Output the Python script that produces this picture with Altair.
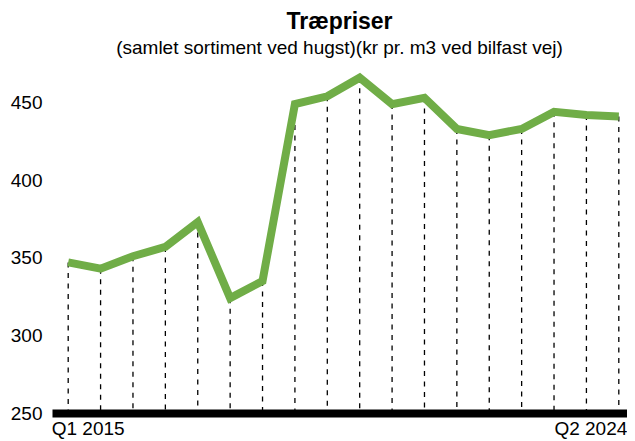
import altair as alt
import pandas as pd

periods = ["Q1 2015", "Q3 2015", "Q1 2016", "Q3 2016", "Q1 2017", "Q3 2017",
           "Q1 2018", "Q3 2018", "Q1 2019", "Q3 2019", "Q1 2020", "Q3 2020",
           "Q1 2021", "Q3 2021", "Q1 2022", "Q3 2022", "Q3 2023", "Q2 2024"]
prices = [347, 343, 351, 357, 373, 324, 335, 449, 454, 466, 449, 453,
          433, 429, 433, 444, 442, 441]
y_ticks = [250, 300, 350, 400, 450]
baseline = 250

df = pd.DataFrame({"period": periods, "price": prices})

FONT = "Liberation Sans"
GREEN = "#70AD47"

# plot area 575 px visible; the scale runs 8 px past it so it reaches the page edge
x_scale = alt.Scale(type="point", padding=0.5, range=[0, 583])
x_enc = alt.X("period:O", sort=None, title=None, scale=x_scale,
              axis=alt.Axis(values=[periods[0], periods[-1]], labelAngle=0,
                            labelAlign={"condition": {"test": "datum.index == 0", "value": "left"},
                                        "value": "right"},
                            labelOffset={"condition": {"test": "datum.index == 0", "value": -17},
                                         "value": 8},
                            ticks=False, tickSize=0, grid=False,
                            domainColor="black", domainWidth=8,
                            labelFontSize=19, labelColor="black",
                            labelFont=FONT, labelPadding=6))
y_scale = alt.Scale(domain=[250, 470], nice=False, zero=False)

rules = alt.Chart(df).mark_rule(color="black", strokeWidth=1.3,
                                strokeDash=[5, 5.5]).encode(
    x=x_enc,
    y=alt.Y("price:Q", scale=y_scale, title=None,
            axis=alt.Axis(values=y_ticks, domain=False, ticks=False, tickSize=0,
                          grid=False, labelFontSize=19, labelColor="black",
                          labelFont=FONT, labelPadding=10)),
    y2=alt.datum(baseline),
)

line = alt.Chart(df).mark_line(color=GREEN, strokeWidth=8,
                               strokeJoin="miter").encode(
    x=x_enc,
    y=alt.Y("price:Q", scale=y_scale),
)

chart = alt.layer(rules, line).properties(
    width=575, height=341.5,
    title=alt.TitleParams(
        text="Træpriser",
        subtitle="(samlet sortiment ved hugst)(kr pr. m3 ved bilfast vej)",
        font=FONT, fontSize=23, fontWeight="bold", color="black",
        subtitleFont=FONT, subtitleFontSize=19, subtitleColor="black",
        subtitlePadding=5, anchor="middle", offset=4),
    autosize=alt.AutoSizeParams(type="none"),
    padding={"left": 44, "top": 63.5, "right": 0, "bottom": 28},
).configure_view(stroke=None)

chart.save("out.html", embed_options={"renderer": "svg", "actions": False})
